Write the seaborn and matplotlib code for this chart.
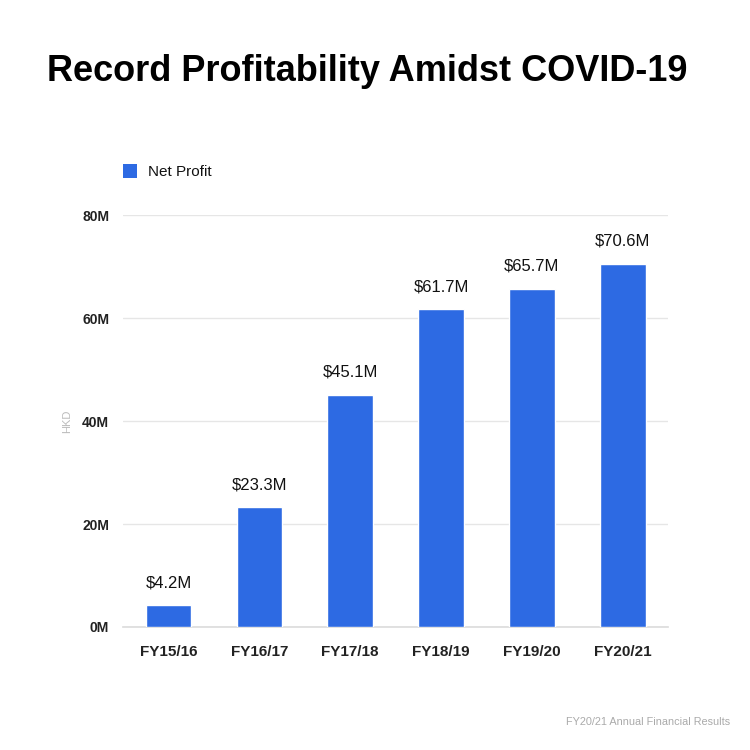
import matplotlib
matplotlib.use("Agg")
import matplotlib.pyplot as plt
import seaborn as sns
import pandas as pd
import numpy as np

categories = ["FY15/16", "FY16/17", "FY17/18", "FY18/19", "FY19/20", "FY20/21"]
net_profit = [4.2, 23.3, 45.1, 61.7, 65.7, 70.6]
value_labels = ["$4.2M", "$23.3M", "$45.1M", "$61.7M", "$65.7M", "$70.6M"]
y_ticks = [0, 20, 40, 60, 80]
y_tick_labels = ["0M", "20M", "40M", "60M", "80M"]

sns.set_theme(style="white")
plt.rcParams['font.family'] = ['Liberation Sans', 'DejaVu Sans']

df = pd.DataFrame({"category": categories, "value": net_profit})

fig = plt.figure(figsize=(7.5, 7.5), dpi=100)
ax = fig.add_axes([0.164, 0.164, 0.727, 0.549])
color = "#2D6AE3"
sns.barplot(data=df, x="category", y="value", color=color, width=0.5,
            saturation=1, ax=ax, zorder=3)

ax.set_ylim(0, 80)
ax.set_xlim(-0.5, 5.5)
ax.set_yticks(y_ticks)
ax.set_yticklabels(y_tick_labels, fontsize=10, fontweight="bold", color="#222222")
ax.set_xticks(range(len(categories)))
ax.set_xticklabels(categories, fontsize=11, fontweight="bold", color="#222222")
ax.tick_params(axis="x", which="major", length=0, pad=13)
ax.tick_params(axis="y", length=0, pad=10)
ax.set_xticks(np.arange(-0.5, 6, 1), minor=True)
ax.tick_params(axis="x", which="minor", length=4, color="#dddddd", width=0.8)
ax.yaxis.grid(True, color="#e6e6e6", linewidth=1, zorder=0)
for s in ["top", "right", "left"]:
    ax.spines[s].set_visible(False)
ax.spines["bottom"].set_color("#dddddd")
ax.set_xlabel("")
ax.set_ylabel("HKD", fontsize=8, color="#bbbbbb", labelpad=7)

for i, (v, lab) in enumerate(zip(net_profit, value_labels)):
    ax.text(i, v + 2.9, lab, ha="center", va="bottom", fontsize=12, color="#111111")

fig.text(0.49, 0.905, "Record Profitability Amidst COVID-19", ha="center", va="center",
         fontsize=26, fontweight="bold", color="black")

# legend
fig.patches.append(plt.Rectangle((0.164, 0.763), 0.018, 0.018, transform=fig.transFigure,
                                 facecolor=color, edgecolor="none"))
fig.text(0.197, 0.771, "Net Profit", ha="left", va="center", fontsize=11, color="#111111")

fig.text(0.973, 0.037, "FY20/21 Annual Financial Results", ha="right", va="center",
         fontsize=7.8, color="#aaaaaa")

fig.savefig("out.png", dpi=100, facecolor="white")
